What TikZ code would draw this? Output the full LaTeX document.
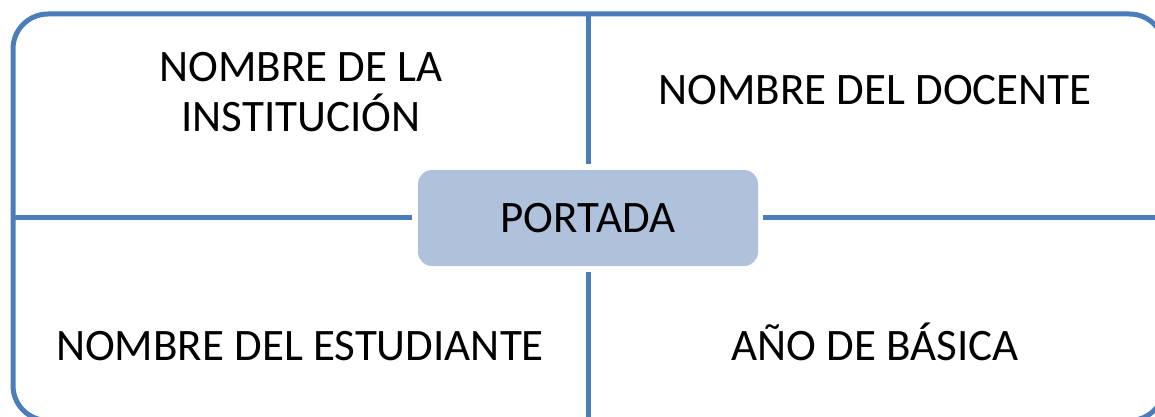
\documentclass[tikz,border=0pt]{standalone}
\usepackage{fontspec}
\setmainfont{Carlito}
\definecolor{lineblue}{HTML}{4A7DBA}
\definecolor{boxfill}{HTML}{B0C1DC}
\begin{document}
\begin{tikzpicture}[x=1pt,y=-1pt,
  conn/.style={draw=lineblue,line width=5pt},
  lbl/.style={inner sep=0pt,font=\fontsize{45}{50}\selectfont,align=center},
  hub/.style={rounded corners=14pt,fill=boxfill,draw=none,minimum width=340pt,minimum height=96pt,inner sep=0pt,font=\fontsize{45}{50}\selectfont}]
\useasboundingbox (0,0) rectangle (1155,417);
\clip (0,0) rectangle (1155,417);
\draw[conn,rounded corners=35pt] (13,14) rectangle (1164.5,420.5);
\node[hub] (portada) at (588,218) {PORTADA};
\coordinate (T) at (588,14);
\coordinate (B) at (588,420.5);
\coordinate (L) at (13,217.5);
\coordinate (R) at (1164.5,217.5);
\draw[conn,shorten >=6pt] (T) -- (T |- portada.north);
\draw[conn,shorten >=6pt] (B) -- (B |- portada.south);
\draw[conn,shorten >=6pt] (L) -- (portada.west |- L);
\draw[conn,shorten >=5pt] (R) -- (portada.east |- R);
\node[lbl,anchor=base] (doc) at (875,105) {NOMBRE DEL DOCENTE};
\node[lbl] (inst) at (301,92.5) {NOMBRE DE LA\\INSTITUCIÓN};
\node[lbl,anchor=base] (est) at (300,360) {NOMBRE DEL ESTUDIANTE};
\node[lbl,anchor=base] (anio) at (875,360) {AÑO DE BÁSICA};
\end{tikzpicture}
\end{document}
